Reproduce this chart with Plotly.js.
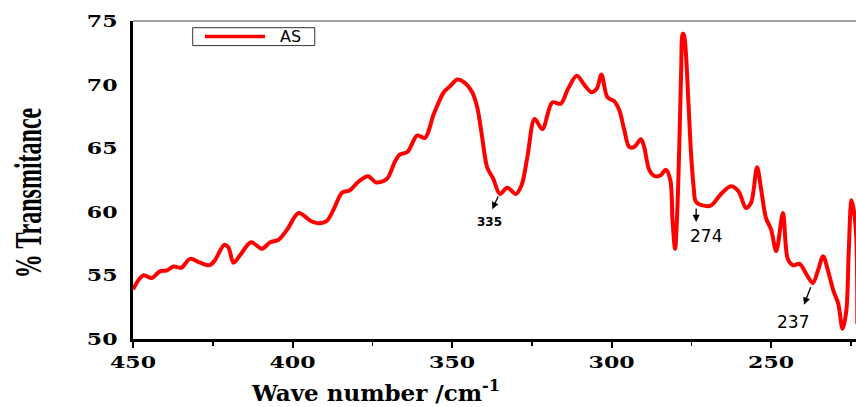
<!DOCTYPE html>
<html>
<head>
<meta charset="utf-8">
<script src="https://cdn.plot.ly/plotly-3.0.1.min.js"></script>
<style>html,body{margin:0;padding:0;background:#fff;}#chart{width:856px;height:407px;}</style>
</head>
<body>
<div id="chart"></div>
<script>
// Wave number (cm^-1), descending
const waveNumber = [450, 446.8, 444.1, 441.7, 439.4, 437.3, 434.9, 432.1, 429.0, 426.0, 424.3, 421.4, 420.1, 418.5, 416.4, 413.0, 409.6, 407.0, 404.4, 401.7, 398.1, 394.4, 391.8, 389.2, 387.1, 384.5, 382.0, 379.2, 376.3, 373.8, 370.4, 368.0, 366.4, 364.0, 360.9, 358.5, 355.7, 352.6, 350.5, 348.4, 346.3, 343.7, 342.1, 340.6, 339.0, 337.1, 335.0, 332.7, 330.0, 328.2, 326.4, 324.1, 321.7, 318.6, 315.9, 313.8, 310.9, 308.6, 306.3, 304.6, 303.2, 301.3, 299.2, 297.6, 296.0, 294.5, 292.9, 290.8, 289.8, 288.2, 286.4, 284.5, 283.0, 281.6, 280.9, 280.1, 279.5, 278.8, 278.2, 277.7, 277.3, 276.7, 275.9, 275.1, 274.3, 273.6, 271.5, 268.8, 265.7, 262.6, 260.2, 257.9, 256.3, 254.4, 253.1, 251.6, 250.0, 248.4, 246.3, 244.8, 243.2, 241.1, 238.5, 236.9, 235.3, 233.7, 232.2, 230.5, 229.0, 227.6, 226.4, 225.7, 224.8, 223.5, 223.0];
// % Transmittance, series "AS"
const transAS = [53.9, 55.0, 54.8, 55.3, 55.4, 55.7, 55.6, 56.3, 56.0, 55.8, 56.2, 57.4, 57.2, 56.0, 56.6, 57.6, 57.1, 57.6, 57.8, 58.6, 59.9, 59.3, 59.1, 59.3, 60.2, 61.5, 61.7, 62.4, 62.8, 62.3, 62.6, 63.9, 64.5, 64.7, 66.0, 65.8, 67.7, 69.4, 69.9, 70.4, 70.2, 69.4, 68.2, 65.9, 63.5, 62.6, 61.4, 61.9, 61.4, 62.1, 64.3, 67.3, 66.5, 68.6, 68.5, 69.6, 70.7, 70.0, 69.4, 69.7, 70.8, 69.0, 68.7, 68.0, 66.4, 65.1, 65.1, 65.7, 65.1, 63.3, 62.8, 62.9, 63.3, 62.5, 59.3, 57.1, 59.5, 65.0, 71.0, 74.0, 73.9, 72.4, 68.5, 64.6, 62.0, 60.8, 60.5, 60.5, 61.4, 62.0, 61.6, 60.3, 60.7, 63.5, 61.7, 59.5, 58.6, 56.9, 59.9, 56.3, 55.8, 55.9, 54.9, 54.4, 55.4, 56.5, 55.4, 53.8, 52.8, 50.8, 52.3, 56.7, 60.9, 58.8, 51.2];
const seriesName = 'AS';
const xTicks = [450, 400, 350, 300, 250];
const yTicks = [50, 55, 60, 65, 70, 75];
// Marked bands: arrow head position, label position, label text
const marks = [
  {wn: 337.4, t: 60.2, lx: 338.4, ly: 59.2, label: '335', ax: 6.6, ay: -14.3},
  {wn: 273.5, t: 59.2, lx: 270.4, ly: 58.1, label: '274', ax: 0, ay: -15},
  {wn: 239.7, t: 52.7, lx: 243.2, ly: 51.3, label: '237', ax: 7.3, ay: -19}
];

const tickFont = {family: 'DejaVu Serif', size: 17, color: '#000', weight: 700};

const annotations = [];
marks.forEach((m, i) => {
  annotations.push({x: m.wn, y: m.t, xref: 'x', yref: 'y', text: '', showarrow: true,
    ax: m.ax, ay: m.ay, arrowhead: 2, arrowsize: 1.1, arrowwidth: 1.3, arrowcolor: '#000', standoff: 0, startstandoff: 0});
  annotations.push({x: m.lx, y: m.ly, xref: 'x', yref: 'y', text: m.label, showarrow: false,
    font: i === 0 ? {family: 'DejaVu Sans', size: 12, weight: 700, color: '#000'} : {family: 'DejaVu Sans', size: 17, color: '#000'}});
});
// x-axis title
annotations.push({x: 0.335, y: -0.2136, xref: 'paper', yref: 'paper', yanchor: 'bottom', xanchor: 'center', showarrow: false, borderpad: 0,
  text: 'Wave number /cm<sup>-1</sup>', font: {family: 'DejaVu Serif', size: 23, weight: 700, color: '#000'}});
// y-axis title
annotations.push({x: -0.145, y: 0.459, xref: 'paper', yref: 'paper', xanchor: 'center', yanchor: 'middle', showarrow: false, textangle: -90,
  text: '% Transmitance', font: {family: 'Liberation Serif', size: 24, weight: 700, color: '#000'}});
// legend text
annotations.push({x: 0.2178, y: 0.951, xref: 'paper', yref: 'paper', xanchor: 'center', yanchor: 'middle', showarrow: false,
  text: seriesName, font: {family: 'DejaVu Sans', size: 16, color: '#000'}});

const trace = {x: waveNumber, y: transAS, type: 'scatter', mode: 'lines', name: seriesName,
  line: {color: '#ff0000', width: 4, shape: 'spline', smoothing: 0.9}};

const layout = {
  width: 856, height: 407,
  margin: {l: 133, r: 0, t: 21, b: 68},
  paper_bgcolor: '#fff', plot_bgcolor: '#fff',
  showlegend: false,
  xaxis: {range: [450, 223.4], tickvals: xTicks, ticktext: xTicks.map(String), showgrid: false, zeroline: false,
    showline: true, linecolor: '#000', linewidth: 3, ticks: 'outside', ticklen: 6, tickwidth: 2, tickcolor: '#000',
    minor: {dtick: 25, tick0: 0, ticks: 'outside', ticklen: 4, tickwidth: 1.5, tickcolor: '#000'},
    tickfont: tickFont},
  yaxis: {range: [50, 75], tickvals: yTicks, ticktext: yTicks.map(String), showgrid: false, zeroline: false,
    showline: true, linecolor: '#000', linewidth: 3, ticks: '', ticklabelstandoff: 9, tickfont: tickFont},
  shapes: [
    {type: 'line', xref: 'paper', yref: 'paper', x0: 0, x1: 1, y0: 1, y1: 1, line: {color: '#444', width: 1}},
    // legend box and sample line
    {type: 'rect', xref: 'paper', yref: 'paper', x0: 0.0826, x1: 0.2514, y0: 0.9227, y1: 0.979, line: {color: '#333', width: 1}, fillcolor: '#fff'},
    {type: 'line', xref: 'paper', yref: 'paper', x0: 0.0996, x1: 0.1826, y0: 0.951, y1: 0.951, line: {color: '#ff0000', width: 3.5}}
  ],
  annotations: annotations
};

Plotly.newPlot('chart', [trace], layout, {displayModeBar: false, staticPlot: true}).then(() => {
  // widen tick labels like the reference's stretched lettering, about each label's own anchor
  document.querySelectorAll('.xtick text, .ytick text').forEach(t => {
    const tr = t.getAttribute('transform') || '';
    const ax = parseFloat(t.getAttribute('x')) || 0;
    t.setAttribute('transform', `${tr} translate(${ax},0) scale(1.3,1) translate(${-ax},0)`);
  });
  // thicken the rotated y title (scale glyph height in its local frame)
  document.querySelectorAll('.annotation-text').forEach(t => {
    if (t.textContent === '% Transmitance') {
      const tr = t.getAttribute('transform') || '';
      const b = t.getBBox();
      const cx = b.x + b.width / 2, cy = b.y + b.height / 2;
      t.setAttribute('transform', `${tr} translate(${cx},${cy}) scale(1,1.6) translate(${-cx},${-cy})`);
    }
  });
});
</script>
</body>
</html>
